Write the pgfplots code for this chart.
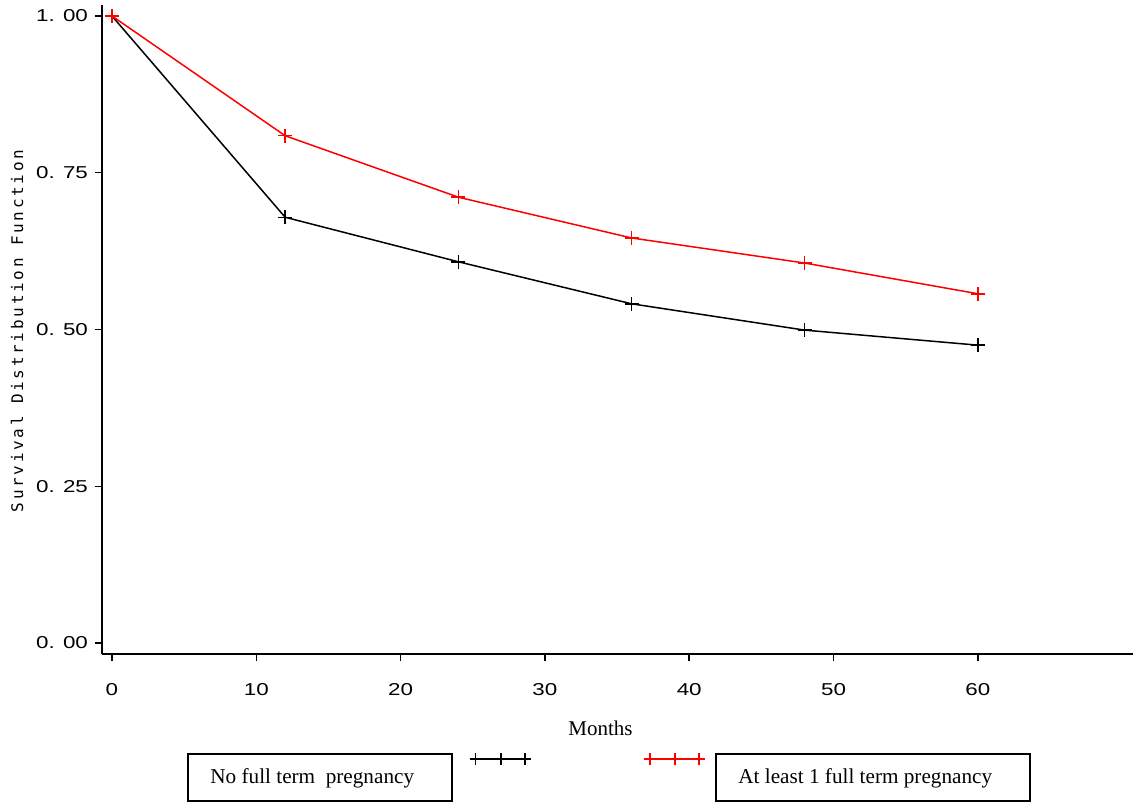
\documentclass[border=0pt]{standalone}
\usepackage{fontspec}
\usepackage{pgfplots}
\pgfplotsset{compat=1.18}
\setmainfont{Liberation Serif}
\newfontfamily\tickfont[FakeStretch=1.3]{Liberation Sans}
\newfontfamily\ylabfont[LetterSpace=17]{DejaVu Sans Mono}
\begin{document}
\begin{tikzpicture}
\useasboundingbox (0,0) rectangle (569pt,401.5pt);
\begin{axis}[
  at={(51pt,74.5pt)}, anchor=south west,
  scale only axis, width=515.5pt, height=324.5pt,
  xmin=-0.69, xmax=70.75, ymin=-0.0175, ymax=1.0175,
  axis x line*=bottom, axis y line*=left,
  axis line style={line width=0.75pt, -},
  tick align=outside, major tick length=3.5pt,
  every tick/.style={black, line width=0.75pt},
  xtick={0,10,20,30,40,50,60},
  xticklabels={0,10,20,30,40,50,60},
  ytick={0,0.25,0.5,0.75,1},
  yticklabels={0. 00,0. 25,0. 50,0. 75,1. 00},
  xticklabel style={font=\fontsize{8.6}{9}\tickfont, yshift=-7.5pt},
  yticklabel style={font=\fontsize{8.6}{9}\tickfont},
  clip=false,
]
\addplot[black, line width=0.75pt, mark=+, mark size=3.5pt, mark options={line width=0.75pt}] coordinates {
  (0,1.0) (12,0.679) (24,0.608) (36,0.541) (48,0.499) (60,0.475)};
\addplot[red, line width=0.75pt, mark=+, mark size=3.5pt, mark options={line width=0.75pt}] coordinates {
  (0,1.0) (12,0.809) (24,0.711) (36,0.646) (48,0.606) (60,0.557)};
% legend samples
\addplot[black, line width=0.75pt] coordinates {(24.88,-0.185) (28.9,-0.185)};
\addplot[black, only marks, mark=+, mark size=3pt, mark options={line width=0.75pt}] coordinates {(25.2,-0.185) (26.96,-0.185) (28.62,-0.185)};
\addplot[red, line width=0.75pt] coordinates {(37.0,-0.185) (41.1,-0.185)};
\addplot[red, only marks, mark=+, mark size=3pt, mark options={line width=0.75pt}] coordinates {(37.28,-0.185) (39.02,-0.185) (40.69,-0.185)};
\end{axis}
\node[rotate=90, inner sep=0pt] at (8.5pt,236pt) {\fontsize{8}{9}\ylabfont Survival Distribution Function};
\node[anchor=base, inner sep=0pt] at (300.25pt,34pt) {\fontsize{10.5}{12}\selectfont Months};
\draw[line width=1pt] (94pt,1pt) rectangle (226pt,24.5pt);
\node[anchor=base west, inner sep=0pt] at (105pt,10pt) {\fontsize{10.6}{12}\selectfont No full term\ \ pregnancy};
\draw[line width=1pt] (358pt,1pt) rectangle (515pt,24.5pt);
\node[anchor=base west, inner sep=0pt] at (369pt,10pt) {\fontsize{10.6}{12}\selectfont At least 1 full term pregnancy};
\end{tikzpicture}
\end{document}
